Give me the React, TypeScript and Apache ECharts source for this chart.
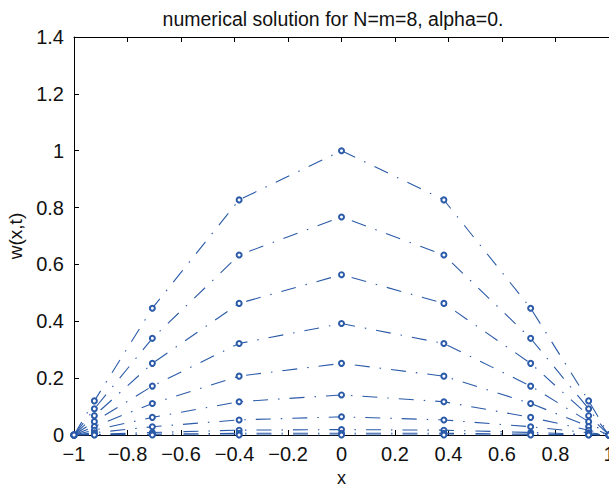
import React, { useEffect, useRef } from "react";
import * as echarts from "echarts";

const xNodes = [-1, -0.9239, -0.7071, -0.3827, 0, 0.3827, 0.7071, 0.9239, 1];

const curve1 = [0, 0.120, 0.446, 0.827, 1.000, 0.827, 0.446, 0.120, 0];
const curve2 = [0, 0.092, 0.340, 0.633, 0.767, 0.633, 0.340, 0.092, 0];
const curve3 = [0, 0.068, 0.252, 0.463, 0.564, 0.463, 0.252, 0.068, 0];
const curve4 = [0, 0.047, 0.172, 0.322, 0.392, 0.322, 0.172, 0.047, 0];
const curve5 = [0, 0.030, 0.111, 0.207, 0.252, 0.207, 0.111, 0.030, 0];
const curve6 = [0, 0.017, 0.062, 0.117, 0.141, 0.117, 0.062, 0.017, 0];
const curve7 = [0, 0.008, 0.029, 0.053, 0.064, 0.053, 0.029, 0.008, 0];
const curve8 = [0, 0.002, 0.009, 0.017, 0.019, 0.017, 0.009, 0.002, 0];
const curve9 = [0, 0.001, 0.003, 0.006, 0.006, 0.006, 0.003, 0.001, 0];
const curve10 = [0, 0, 0, 0, 0, 0, 0, 0, 0];

const curves = [curve1, curve2, curve3, curve4, curve5, curve6, curve7, curve8, curve9, curve10];

const titleText = "numerical solution for N=m=8, alpha=0.";
const xName = "x";
const yName = "w(x,t)";

const BLUE = "#2a5aa8";
const FONT = "Liberation Sans";

function fmt(v: number): string {
  const s = String(Math.round(v * 10) / 10);
  return s.replace("-", "\u2212");
}

export default function App() {
  const ref = useRef<HTMLDivElement>(null);
  useEffect(() => {
    if (!ref.current) return;
    const chart = echarts.init(ref.current, undefined, { renderer: "svg" });
    const series = curves.map((c) => ({
      type: "line",
      data: c.map((y, i) => [xNodes[i], y]),
      symbol: "emptyCircle",
      symbolSize: 5,
      showSymbol: true,
      lineStyle: { color: BLUE, width: 1.1, type: [15, 10, 1.5, 10] },
      itemStyle: { color: BLUE, borderColor: BLUE, borderWidth: 1 },
      z: 3,
    }));
    chart.setOption({
      animation: false,
      backgroundColor: "#ffffff",
      title: {
        text: titleText,
        left: 328,
        top: 4,
        textAlign: "center",
        textStyle: { fontFamily: FONT, fontSize: 19.5, fontWeight: "normal", color: "#111" },
      },
      grid: { left: 74, right: 0, top: 37, bottom: 52, outerBoundsMode: "none", containLabel: false },
      xAxis: [
        {
          type: "value",
          min: -1,
          max: 1,
          interval: 0.2,
          name: xName,
          nameLocation: "middle",
          nameGap: 32,
          nameTextStyle: { fontFamily: FONT, fontSize: 18, lineHeight: 18, color: "#111" },
          axisLine: { show: true, onZero: false, lineStyle: { color: "#000", width: 1 } },
          axisTick: { show: true, inside: true, length: 5, lineStyle: { color: "#000" } },
          axisLabel: { fontFamily: FONT, fontSize: 20, color: "#111", margin: 9, formatter: fmt },
          splitLine: { show: false },
        },
        {
          type: "value",
          position: "top",
          min: -1,
          max: 1,
          interval: 0.2,
          axisLine: { show: true, onZero: false, lineStyle: { color: "#000", width: 1 } },
          axisTick: { show: true, inside: true, length: 5, lineStyle: { color: "#000" } },
          axisLabel: { show: false },
          splitLine: { show: false },
        },
      ],
      yAxis: {
        type: "value",
        min: 0,
        max: 1.4,
        interval: 0.2,
        name: yName,
        nameLocation: "middle",
        nameGap: 46,
        nameRotate: 90,
        nameTextStyle: { fontFamily: FONT, fontSize: 19, color: "#111" },
        axisLine: { show: true, onZero: false, lineStyle: { color: "#000", width: 1 } },
        axisTick: { show: true, inside: true, length: 5, lineStyle: { color: "#000" } },
        axisLabel: { fontFamily: FONT, fontSize: 20, color: "#111", margin: 10, formatter: fmt },
        splitLine: { show: false },
      },
      series,
    });
    return () => chart.dispose();
  }, []);
  return (
    <div
      ref={ref}
      style={{ position: "fixed", left: 0, top: 0, width: 609, height: 487 }}
    />
  );
}
